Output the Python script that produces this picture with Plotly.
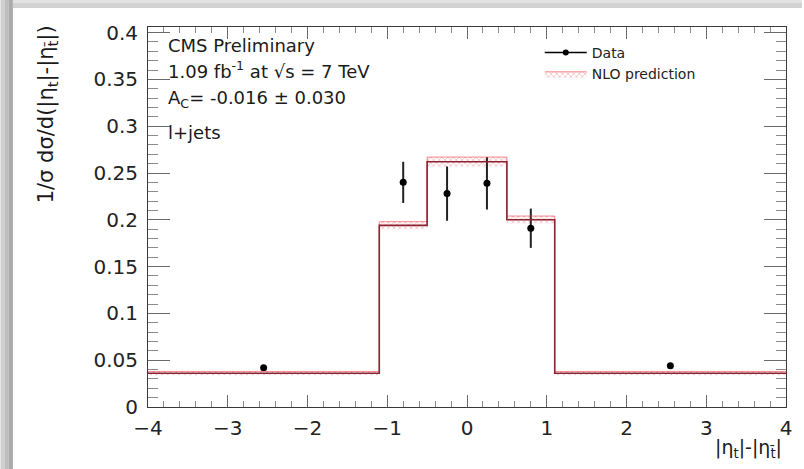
import plotly.graph_objects as go

# Binning in |eta_t| - |eta_tbar|
bin_edges = [-4.0, -1.1, -0.5, 0.0, 0.5, 1.1, 4.0]
# NLO prediction (normalised), per bin, and its uncertainty half-width
nlo_values = [0.036, 0.194, 0.262, 0.262, 0.200, 0.036]
nlo_unc = [0.002, 0.004, 0.005, 0.005, 0.004, 0.002]

# Unfolded data points
data_x = [-2.55, -0.8, -0.25, 0.25, 0.8, 2.55]
data_y = [0.042, 0.240, 0.228, 0.239, 0.191, 0.044]
data_err = [0.002, 0.022, 0.029, 0.028, 0.021, 0.002]

x_ticks = [-4, -3, -2, -1, 0, 1, 2, 3, 4]
y_ticks = [0, 0.05, 0.1, 0.15, 0.2, 0.25, 0.3, 0.35, 0.4]

FONT = "DejaVu Sans"

# Plot-area geometry (pixels) used to place decorations in paper coords
W, H = 804, 469
ML, MR, MT, MB = 148, 16, 27, 62
PW, PH = W - ML - MR, H - MT - MB


def px_x(px):
    return (px - ML) / PW


def px_y(py):
    return (H - MB - py) / PH


def step(vals):
    """Histogram values -> y array for an 'hv' step line over bin_edges."""
    return list(vals) + [vals[-1]]


fig = go.Figure()

lo = [v - u for v, u in zip(nlo_values, nlo_unc)]
hi = [v + u for v, u in zip(nlo_values, nlo_unc)]

# Data points with error bars
fig.add_trace(go.Scatter(
    x=data_x, y=data_y, mode="markers",
    marker=dict(color="black", size=7, symbol="circle"),
    error_y=dict(type="data", array=data_err, color="#222222", thickness=2, width=0),
    showlegend=False,
))
# Legend entry for the data (line + marker)
fig.add_trace(go.Scatter(
    x=[None], y=[None], mode="lines+markers", name="Data", legendrank=1,
    line=dict(color="black", width=1.5), marker=dict(color="black", size=6),
))

# NLO uncertainty band (hatched)
fig.add_trace(go.Scatter(
    x=bin_edges, y=step(lo), mode="lines", line=dict(width=0, shape="hv"),
    showlegend=False, hoverinfo="skip",
))
fig.add_trace(go.Scatter(
    x=bin_edges, y=step(hi), mode="lines",
    line=dict(width=1, shape="hv", color="rgba(235,60,70,0.6)"),
    fill="tonexty", fillcolor="rgba(255,190,195,0.35)",
    fillpattern=dict(shape="x", fgcolor="rgba(225,30,40,0.75)", bgcolor="rgba(255,255,255,0)",
                     size=4, solidity=0.3),
    name="NLO prediction", legendrank=2, hoverinfo="skip",
))

# NLO central histogram
fig.add_trace(go.Scatter(
    x=bin_edges, y=step(nlo_values), mode="lines",
    line=dict(color="#8a2232", width=1.6, shape="hv"),
    showlegend=False, hoverinfo="skip",
))

# Frame decoration: grey strips on the left and top edges of the canvas
shapes = []
for (a, b, col) in [(0, 4, "#cfcfcf"), (4, 8, "#bdbdbd"), (8, 12.5, "#ababab")]:
    shapes.append(dict(type="rect", xref="paper", yref="paper", layer="below",
                       x0=px_x(a), x1=px_x(b), y0=px_y(H), y1=px_y(0),
                       line=dict(width=0), fillcolor=col))
for (a, b, col) in [(0, 3, "#e2e2e2"), (3, 8, "#d2d2d2")]:
    shapes.append(dict(type="rect", xref="paper", yref="paper", layer="below",
                       x0=px_x(12.5), x1=px_x(W), y0=px_y(b), y1=px_y(a),
                       line=dict(width=0), fillcolor=col))

ann_font = dict(family=FONT, size=18, color="#1a1a1a")
annotations = [
    dict(text="CMS Preliminary", x=px_x(166), y=px_y(45)),
    dict(text="1.09 fb<sup>-1</sup> at √s = 7 TeV", x=px_x(166), y=px_y(70)),
    dict(text="A<sub>C</sub>= -0.016 ± 0.030", x=px_x(166), y=px_y(99)),
    dict(text="l+jets", x=px_x(166), y=px_y(132)),
]
for a in annotations:
    a.update(xref="paper", yref="paper", xanchor="left", yanchor="middle",
             showarrow=False, font=ann_font)

# Axis titles in ROOT style (right/top aligned)
annotations.append(dict(
    text="|η<sub>t</sub>|-|η<sub>t̄</sub>|", xref="paper", yref="paper",
    x=px_x(786), y=px_y(449), xanchor="right", yanchor="middle",
    showarrow=False, font=dict(family=FONT, size=19, color="#1a1a1a"),
))
annotations.append(dict(
    text="1/σ dσ/d(|η<sub>t</sub>|-|η<sub>t̄</sub>|)", xref="paper", yref="paper",
    x=px_x(47), y=px_y(114), xanchor="center", yanchor="middle", textangle=-90,
    showarrow=False, font=dict(family=FONT, size=21, color="#1a1a1a"),
))

axis_common = dict(
    showline=True, linecolor="#3a3a3a", linewidth=1, mirror="allticks",
    ticks="inside", tickcolor="#6a6a6a", tickwidth=1,
    showgrid=False, zeroline=False,
    tickfont=dict(family=FONT, size=20, color="#222222"),
)

fig.update_layout(
    width=W, height=H,
    margin=dict(l=ML, r=MR, t=MT, b=MB),
    paper_bgcolor="white", plot_bgcolor="white",
    showlegend=True,
    legend=dict(x=px_x(541), y=px_y(37), xanchor="left", yanchor="top",
                traceorder="normal",
                bgcolor="rgba(0,0,0,0)", font=dict(family=FONT, size=14, color="#222222"),
                tracegroupgap=0, itemwidth=42),
    xaxis=dict(range=[-4, 4], tickvals=x_ticks, ticklen=12, ticklabelstandoff=3,
               minor=dict(ticks="inside", dtick=0.2, ticklen=6, tickcolor="#8a8a8a"),
               **axis_common),
    yaxis=dict(range=[0, 0.406], tickvals=y_ticks, ticklen=22, ticklabelstandoff=5,
               minor=dict(ticks="inside", dtick=0.01, ticklen=10, tickcolor="#8a8a8a"),
               **axis_common),
    shapes=shapes,
    annotations=annotations,
)

fig.write_html("out.html")
